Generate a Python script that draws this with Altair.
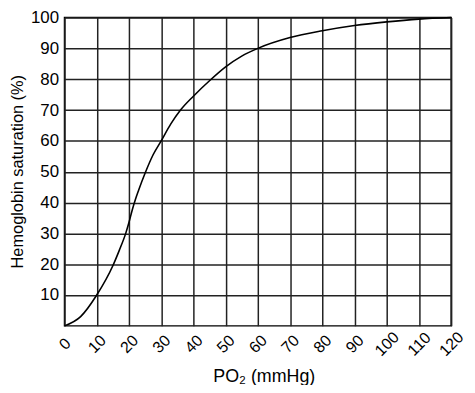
import altair as alt
import pandas as pd

po2 = [0, 5, 10, 15, 17, 19, 20, 21, 22, 23, 25, 27.5, 30, 33, 36, 40, 45, 50, 55, 60, 70, 80, 90, 100, 110, 120]
saturation = [0, 3, 10, 19.5, 24.5, 30, 33.5, 37.5, 41, 44, 49.5, 55.5, 60, 65.5, 70, 74.5, 79.5, 84, 87.5, 90, 93.5, 95.7, 97.4, 98.6, 99.5, 100]
x_ticks = list(range(0, 121, 10))
y_ticks = list(range(10, 101, 10))

df = pd.DataFrame({"po2": po2, "sat": saturation})

font = "Liberation Sans"
plot_h = 311
plot_w = 390

chart = alt.Chart(df).mark_line(
    color="black", strokeWidth=1.6, interpolate="monotone"
).encode(
    x=alt.X(
        "po2:Q",
        scale=alt.Scale(domain=[0, 120], nice=False, zero=True),
        axis=alt.Axis(
            values=x_ticks,
            title="PO₂ (mmHg)",
            labelAngle=-45,
            labelAlign="center",
            labelBaseline="middle",
            labelPadding=18,
            ticks=False,
            tickSize=0,
            domain=False,
            labelFontSize=16,
            labelFont=font,
            labelColor="black",
            titleFont=font,
            titleFontSize=18,
            titleFontWeight="normal",
            titleColor="black",
            titleBaseline="alphabetic",
            titleY=56,
            titleX=201,
        ),
    ),
    y=alt.Y(
        "sat:Q",
        scale=alt.Scale(domain=[0, 100], nice=False),
        axis=alt.Axis(
            values=y_ticks,
            title="Hemoglobin saturation (%)",
            labelPadding=6,
            ticks=False,
            tickSize=0,
            domain=False,
            labelFontSize=17,
            labelFont=font,
            labelColor="black",
            titleFont=font,
            titleFontSize=16.5,
            titleFontWeight="normal",
            titleColor="black",
            titleAngle=270,
            titleBaseline="alphabetic",
            titleAlign="center",
            titleX=-42,
            titleY=155,
        ),
    ),
).properties(
    width=plot_w,
    height=plot_h,
    autosize=alt.AutoSizeParams(type="none"),
    padding={"left": 57, "top": 8, "right": 16, "bottom": 58},
).configure_axis(
    grid=True,
    gridColor="#222222",
    gridWidth=1.5,
    gridOpacity=1,
).configure_view(
    stroke="black",
    strokeWidth=1.5,
)

chart.save("out.html", embed_options={"renderer": "svg", "actions": False})
